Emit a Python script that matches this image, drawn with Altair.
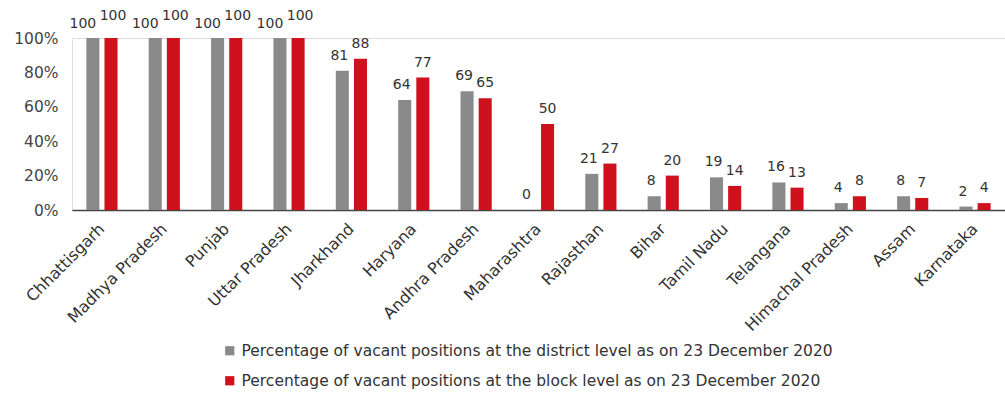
import altair as alt
import pandas as pd

states = ["Chhattisgarh", "Madhya Pradesh", "Punjab", "Uttar Pradesh", "Jharkhand",
          "Haryana", "Andhra Pradesh", "Maharashtra", "Rajasthan", "Bihar",
          "Tamil Nadu", "Telangana", "Himachal Pradesh", "Assam", "Karnataka"]
district = [100, 100, 100, 100, 81, 64, 69, 0, 21, 8, 19, 16, 4, 8, 2]
block = [100, 100, 100, 100, 88, 77, 65, 50, 27, 20, 14, 13, 8, 7, 4]
series = ["Percentage of vacant positions at the district level as on 23 December 2020",
          "Percentage of vacant positions at the block level as on 23 December 2020"]
colors = ["#8a8a8a", "#cf111d"]

rows = []
for s, d, b in zip(states, district, block):
    rows.append({"state": s, "series": series[0], "k": 0, "value": d})
    rows.append({"state": s, "series": series[1], "k": 1, "value": b})
df = pd.DataFrame(rows)

FONT = "DejaVu Sans"

x = alt.X("state:N", sort=states, title=None,
          scale=alt.Scale(paddingInner=0.5, paddingOuter=0.23),
          axis=alt.Axis(labelAngle=-45, labelAlign="right", labelBaseline="middle",
                        labelFontSize=16, labelColor="#333",
                        labelFont=FONT, ticks=False, domainColor="#444", domainWidth=1.5,
                        labelPadding=16))
xo = alt.XOffset("series:N", sort=series, scale=alt.Scale(paddingInner=0.28))
y = alt.Y("value:Q", title=None, scale=alt.Scale(domain=[0, 100]),
          axis=alt.Axis(values=[0, 20, 40, 60, 80, 100], labelExpr="datum.value + '%'",
                        labelFontSize=15.5, labelColor="#444", labelFont=FONT,
                        domain=False, ticks=False, grid=False, labelPadding=14))

bars = alt.Chart(df).mark_bar().encode(
    x=x, xOffset=xo, y=y,
    color=alt.Color("series:N", sort=series,
                    scale=alt.Scale(domain=series, range=colors),
                    legend=alt.Legend(title=None, orient="none", legendX=150, legendY=305,
                                      symbolType="square", symbolSize=85,
                                      symbolStrokeWidth=0, labelFontSize=15.5,
                                      labelFont=FONT, labelColor="#333", labelLimit=900,
                                      rowPadding=13, direction="vertical")),
)

def label_layer(flt, lift, dx=0):
    return alt.Chart(df).transform_filter(flt).mark_text(
        baseline="middle", dx=dx, fontSize=14, font=FONT, color="#333").encode(
        x=x, xOffset=xo, y=y, text=alt.Text("value:Q"),
        yOffset=alt.value(-lift))

# the two "100" labels of a pair are staggered so that they don't collide
layers = [
    bars,
    label_layer("datum.k == 0 && datum.value < 100", 15, -3),
    label_layer("datum.k == 0 && datum.value == 100", 14, -10),
    label_layer("datum.k == 1 && datum.value < 100", 15),
    label_layer("datum.k == 1 && datum.value == 100", 22, 2),
]

chart = alt.layer(*layers).properties(
    width=933, height=172,
    autosize=alt.AutoSizeParams(type="none"),
    padding={"left": 72, "top": 38, "right": 0, "bottom": 186},
).configure_view(strokeWidth=0).configure(background="white")

chart.save("out.html", embed_options={"renderer": "svg", "actions": False})
